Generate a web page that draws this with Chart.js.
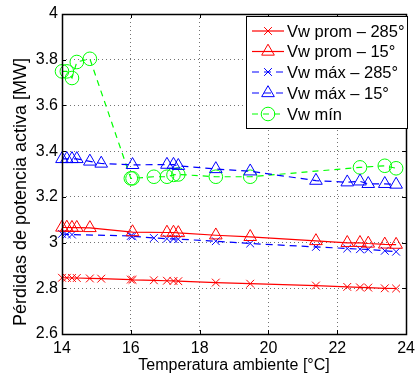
<!DOCTYPE html>
<html>
<head>
<meta charset="utf-8">
<script src="https://cdn.jsdelivr.net/npm/chart.js@4/dist/chart.umd.min.js"></script>
<style>
  html, body { margin: 0; padding: 0; background: #fff; }
  #wrap { width: 420px; height: 377px; position: relative; }
</style>
</head>
<body>
<div id="wrap"><canvas id="c" width="420" height="377"></canvas></div>
<script>
// Temperatura ambiente [°C]
const temps = [14.0, 14.14, 14.29, 14.43, 14.81, 15.14, 16.0, 16.05, 16.67, 17.05, 17.24, 17.38, 18.47, 19.47, 21.38, 22.29, 22.66, 22.9, 23.38, 23.71];
// Pérdidas de potencia activa [MW]
const promW285 = [2.846, 2.846, 2.845, 2.845, 2.843, 2.842, 2.838, 2.837, 2.835, 2.833, 2.832, 2.831, 2.825, 2.820, 2.812, 2.806, 2.804, 2.803, 2.800, 2.799];
const promW15  = [3.066, 3.066, 3.065, 3.065, 3.064, null, null, 3.046, null, 3.044, 3.044, 3.042, 3.032, 3.025, 3.007, 2.999, 2.999, 2.996, 2.992, 2.991];
const maxW285  = [3.038, 3.036, 3.035, null, null, null, 3.029, 3.028, 3.020, 3.017, 3.016, 3.015, 3.006, 2.996, 2.981, 2.974, 2.971, 2.970, 2.964, 2.960];
const maxW15   = [3.366, 3.366, 3.366, 3.366, 3.355, 3.346, null, 3.340, null, 3.341, 3.341, 3.336, 3.322, 3.312, 3.271, 3.264, 3.268, 3.257, 3.257, 3.254];
const minW     = [3.749, 3.749, 3.720, 3.790, 3.804, null, 3.281, 3.281, 3.288, 3.288, 3.296, 3.298, 3.288, 3.288, null, null, 3.329, null, 3.336, 3.325];

const seriesLabels = ['Vw prom \u2013 285\u00B0', 'Vw prom \u2013 15\u00B0', 'Vw m\u00E1x \u2013 285\u00B0', 'Vw m\u00E1x \u2013 15\u00B0', 'Vw m\u00EDn'];
const xTicks = [14, 16, 18, 20, 22, 24];
const yTicks = [2.6, 2.8, 3, 3.2, 3.4, 3.6, 3.8, 4];
const yTitle = 'P\u00E9rdidas de potencia activa [MW]';

const FONT = '"Liberation Sans", Arial, Helvetica, sans-serif';
const RED = 'rgb(255,0,0)', BLUE = 'rgb(0,0,255)', GREEN = 'rgb(0,255,0)';

function pts(vals) { return temps.map((t, i) => ({ x: t, y: vals[i] })); }

function ds(label, vals, color, style, radius, dash, width) {
  return {
    label, data: pts(vals),
    borderColor: color, backgroundColor: 'rgba(0,0,0,0)',
    pointBorderColor: color, pointBackgroundColor: 'rgba(0,0,0,0)',
    pointStyle: style, pointRadius: radius, pointHoverRadius: radius,
    pointBorderWidth: 1, borderWidth: width, borderDash: dash,
    tension: 0, spanGaps: true, clip: false, showLine: true
  };
}

const datasets = [
  ds(seriesLabels[0], promW285, RED, 'crossRot', 5.5, [], 1.2),
  ds(seriesLabels[1], promW15, RED, 'triangle', 7.3, [], 1.2),
  ds(seriesLabels[2], maxW285, BLUE, 'crossRot', 5.5, [7, 5], 1.2),
  ds(seriesLabels[3], maxW15, BLUE, 'triangle', 7.3, [7, 5], 1.2),
  ds(seriesLabels[4], minW, GREEN, 'circle', 6.8, [6, 5], 1.2)
];

function drawMarker(ctx, style, r, x, y) {
  ctx.beginPath();
  if (style === 'circle') {
    ctx.arc(x, y, r, 0, Math.PI * 2);
  } else if (style === 'triangle') {
    for (let k = 0; k < 3; k++) {
      const a = k * 2 * Math.PI / 3;
      const px = x + Math.sin(a) * r, py = y - Math.cos(a) * r;
      if (k === 0) ctx.moveTo(px, py); else ctx.lineTo(px, py);
    }
    ctx.closePath();
  } else if (style === 'crossRot') {
    const d = r * Math.SQRT1_2;
    ctx.moveTo(x - d, y - d); ctx.lineTo(x + d, y + d);
    ctx.moveTo(x + d, y - d); ctx.lineTo(x - d, y + d);
  }
  ctx.stroke();
}

const framePlugin = {
  id: 'frame',
  afterDraw(chart) {
    const ctx = chart.ctx, a = chart.chartArea;
    const xs = chart.scales.x, ys = chart.scales.y;
    ctx.save();
    ctx.strokeStyle = '#000'; ctx.lineWidth = 1; ctx.setLineDash([]);
    // inward ticks
    const tl = 4;
    ctx.beginPath();
    xTicks.forEach(v => {
      const px = Math.round(xs.getPixelForValue(v)) + 0.5;
      ctx.moveTo(px, a.bottom); ctx.lineTo(px, a.bottom - tl);
      ctx.moveTo(px, a.top); ctx.lineTo(px, a.top + tl);
    });
    yTicks.forEach(v => {
      const py = Math.round(ys.getPixelForValue(v)) + 0.5;
      ctx.moveTo(a.left, py); ctx.lineTo(a.left + tl, py);
      ctx.moveTo(a.right, py); ctx.lineTo(a.right - tl, py);
    });
    ctx.stroke();
    ctx.lineWidth = 1.5;
    ctx.strokeRect(Math.round(a.left) + 0.5, Math.round(a.top) + 0.5, Math.round(a.right - a.left), Math.round(a.bottom - a.top));

    // y axis title
    ctx.save();
    ctx.translate(21, 192);
    ctx.rotate(-Math.PI / 2);
    ctx.fillStyle = '#000';
    ctx.font = '18px ' + FONT;
    ctx.textAlign = 'center';
    ctx.textBaseline = 'middle';
    ctx.fillText(yTitle, 0, 0);
    ctx.restore();

    // legend
    const L = { x: 246, y: 16, w: 161, h: 112 };
    ctx.fillStyle = '#fff';
    ctx.fillRect(L.x, L.y, L.w, L.h);
    ctx.lineWidth = 1;
    ctx.strokeStyle = '#000';
    ctx.strokeRect(L.x + 0.5, L.y + 0.5, L.w, L.h);
    const rowsY = [31, 51.5, 72, 93, 114];
    chart.data.datasets.forEach((d, i) => {
      const y = rowsY[i];
      ctx.strokeStyle = d.borderColor;
      ctx.lineWidth = d.borderWidth;
      ctx.setLineDash(d.borderDash || []);
      ctx.beginPath(); ctx.moveTo(252, y); ctx.lineTo(284, y); ctx.stroke();
      ctx.setLineDash([]);
      ctx.lineWidth = 1;
      drawMarker(ctx, d.pointStyle, d.pointRadius, 268, y);
      ctx.fillStyle = '#000';
      ctx.font = '16.5px ' + FONT;
      ctx.textBaseline = 'middle';
      ctx.textAlign = 'left';
      ctx.fillText(d.label, 287, y + 1);
    });
    ctx.restore();
  }
};

new Chart(document.getElementById('c'), {
  type: 'scatter',
  data: { datasets },
  options: {
    responsive: false,
    animation: false,
    events: [],
    layout: { padding: { top: 14, right: 8, left: 0, bottom: 0 } },
    plugins: { legend: { display: false }, tooltip: { enabled: false } },
    scales: {
      x: {
        type: 'linear', min: 14, max: 24,
        afterBuildTicks: s => { s.ticks = xTicks.map(v => ({ value: v })); },
        afterFit: s => { s.height = 43; },
        grid: { display: true, color: 'rgba(0,0,0,0.55)', lineWidth: 1, drawTicks: false, tickLength: 0 },
        border: { display: false, dash: [1, 3] },
        ticks: { color: '#000', font: { family: FONT, size: 16 }, padding: 5, maxRotation: 0, callback: v => String(v) },
        title: { display: true, text: 'Temperatura ambiente [\u00B0C]', color: '#000', font: { family: FONT, size: 16 }, padding: { top: 0, bottom: 2 } }
      },
      y: {
        type: 'linear', min: 2.6, max: 4,
        afterBuildTicks: s => { s.ticks = yTicks.map(v => ({ value: v })); },
        afterFit: s => { s.width = 62; },
        grid: { display: true, color: 'rgba(0,0,0,0.55)', lineWidth: 1, drawTicks: false, tickLength: 0 },
        border: { display: false, dash: [1, 3] },
        ticks: { color: '#000', font: { family: FONT, size: 16 }, padding: 4, callback: v => String(Math.round(v * 10) / 10) },
        title: { display: false }
      }
    }
  },
  plugins: [framePlugin]
});
</script>
</body>
</html>
